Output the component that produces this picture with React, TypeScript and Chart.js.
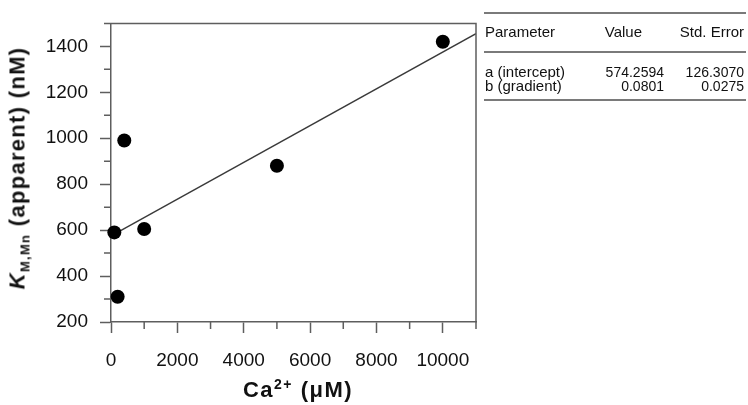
import React, { useEffect, useRef } from 'react';
import { Chart, registerables } from 'chart.js';

Chart.register(...registerables);

// ---- data ----
const calciumUM = [100, 200, 400, 1000, 5000, 10000];
const kmApparentNM = [590, 310, 990, 605, 880, 1420];
const fitIntercept = 574.2594;
const fitGradient = 0.0801;
const fitXRange = [100, 11000];
const xAxisRange = [0, 11000];
const yAxisRange = [200, 1500];
const xMajorStep = 2000;
const xMinorStep = 1000;
const yMajorStep = 200;
const yMinorStep = 100;
const tableHeaders = ['Parameter', 'Value', 'Std. Error'];
const paramNames = ['a (intercept)', 'b (gradient)'];
const paramValues = ['574.2594', '0.0801'];
const paramErrors = ['126.3070', '0.0275'];

const AXIS = '#5e5e5e';
const TEXT = '#111';
const FONT = '"Liberation Sans", Arial, Helvetica, sans-serif';

export default function App() {
  const ref = useRef<HTMLCanvasElement>(null);

  useEffect(() => {
    document.body.style.margin = '0';
    const minorTicks = {
      id: 'minorTicks',
      afterDraw(chart: any) {
        const ctx = chart.ctx;
        const { left, right, top, bottom } = chart.chartArea;
        const xs = chart.scales.x;
        const ys = chart.scales.y;
        ctx.save();
        ctx.strokeStyle = AXIS;
        ctx.lineWidth = 1.5;
        ctx.beginPath();
        // frame top and right
        ctx.moveTo(left, top);
        ctx.lineTo(right, top);
        ctx.lineTo(right, bottom);
        xs.ticks.forEach((t: any) => {
          if (t.value % xMajorStep !== 0) {
            const px = xs.getPixelForValue(t.value);
            ctx.moveTo(px, bottom);
            ctx.lineTo(px, bottom + 7);
          }
        });
        ys.ticks.forEach((t: any) => {
          if (t.value % yMajorStep !== 0) {
            const py = ys.getPixelForValue(t.value);
            ctx.moveTo(left - 7, py);
            ctx.lineTo(left, py);
          }
        });
        ctx.stroke();
        ctx.restore();
      },
    };

    const tickFont = { family: FONT, size: 19 };
    const chart = new Chart(ref.current as HTMLCanvasElement, {
      type: 'scatter',
      data: {
        datasets: [
          {
            type: 'line',
            data: fitXRange.map((x) => ({ x, y: fitIntercept + fitGradient * x })),
            borderColor: '#3a3a3a',
            borderWidth: 1.4,
            pointRadius: 0,
            fill: false,
            order: 2,
          } as any,
          {
            type: 'scatter',
            data: calciumUM.map((x, i) => ({ x, y: kmApparentNM[i] })),
            backgroundColor: '#000',
            borderColor: '#000',
            borderWidth: 0,
            pointRadius: 7,
            clip: false,
            order: 1,
          } as any,
        ],
      },
      options: {
        animation: false,
        responsive: false,
        layout: { padding: { top: 12, right: 272, left: 0, bottom: 0 } },
        plugins: { legend: { display: false }, tooltip: { enabled: false } },
        scales: {
          x: {
            type: 'linear',
            min: xAxisRange[0],
            max: xAxisRange[1],
            afterFit: (s: any) => { s.height = 83; },
            ticks: {
              stepSize: xMinorStep,
              autoSkip: false,
              maxRotation: 0,
              padding: 16,
              font: tickFont,
              color: TEXT,
              callback: (v: any) => (v % xMajorStep === 0 ? String(v) : ''),
            },
            grid: {
              drawOnChartArea: false,
              drawTicks: true,
              tickLength: 11,
              tickWidth: 1.5,
              tickColor: (c: any) => (c.tick && c.tick.value % xMajorStep === 0 ? AXIS : 'rgba(0,0,0,0)'),
            },
            border: { display: true, color: AXIS, width: 1.5 },
          },
          y: {
            type: 'linear',
            min: yAxisRange[0],
            max: yAxisRange[1],
            afterFit: (s: any) => { s.width = 111; },
            ticks: {
              stepSize: yMinorStep,
              autoSkip: false,
              padding: 12,
              font: tickFont,
              color: TEXT,
              callback: (v: any) => (v % yMajorStep === 0 ? String(v) : ''),
            },
            grid: {
              drawOnChartArea: false,
              drawTicks: true,
              tickLength: 11,
              tickWidth: 1.5,
              tickColor: (c: any) => (c.tick && c.tick.value % yMajorStep === 0 ? AXIS : 'rgba(0,0,0,0)'),
            },
            border: { display: true, color: AXIS, width: 1.5 },
          },
        },
      } as any,
      plugins: [minorTicks],
    });
    return () => chart.destroy();
  }, []);

  const rule = (top: number) => (
    <div style={{ position: 'absolute', left: 484, top, width: 262, height: 2, background: '#7a7a7a' }} />
  );
  const txt = (s: string, left: number, top: number, width: number, align: 'left' | 'right', size = 15) => (
    <div style={{ position: 'absolute', left, top, width, textAlign: align, font: `${size}px ${FONT}`, lineHeight: '16px', color: TEXT, whiteSpace: 'nowrap' }}>{s}</div>
  );

  return (
    <div style={{ position: 'absolute', left: 0, top: 0, width: 748, height: 405, overflow: 'hidden', background: '#fff' }}>
      <canvas ref={ref} width={748} height={405} style={{ position: 'absolute', left: 0, top: 0 }} />
      <div
        style={{
          position: 'absolute', left: 19, top: 168,
          transform: 'translate(-50%,-50%) rotate(-90deg)',
          whiteSpace: 'nowrap', font: `bold 22px ${FONT}`, letterSpacing: '1.3px', lineHeight: '26px', color: TEXT,
        }}
      >
        <i>K</i><span style={{ fontSize: 13, position: 'relative', top: 5 }}>M,Mn</span> (apparent) (nM)
      </div>
      <div
        style={{
          position: 'absolute', left: 298, top: 391,
          transform: 'translate(-50%,-50%)',
          whiteSpace: 'nowrap', font: `bold 22px ${FONT}`, letterSpacing: '1.5px', lineHeight: '26px', color: TEXT,
        }}
      >
        Ca<span style={{ fontSize: 14, position: 'relative', top: -8 }}>2+</span> (μM)
      </div>
      {rule(12)}
      {rule(51)}
      {rule(99)}
      {txt(tableHeaders[0], 485, 24, 120, 'left')}
      {txt(tableHeaders[1], 542, 24, 100, 'right')}
      {txt(tableHeaders[2], 644, 24, 100, 'right')}
      {paramNames.map((n, i) => (
        <React.Fragment key={n}>
          {txt(n, 485, 64 + i * 14, 120, 'left')}
          {txt(paramValues[i], 564, 64 + i * 14, 100, 'right', 14)}
          {txt(paramErrors[i], 644, 64 + i * 14, 100, 'right', 14)}
        </React.Fragment>
      ))}
    </div>
  );
}
